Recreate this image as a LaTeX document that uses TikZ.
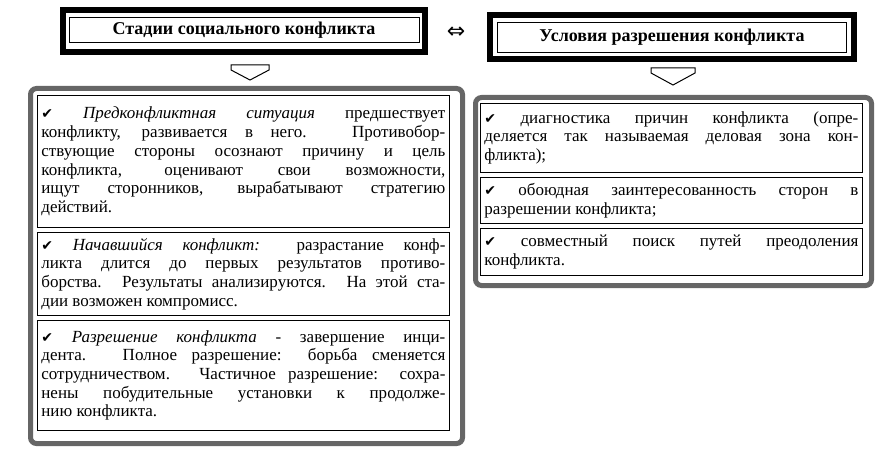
\documentclass[tikz,border=0pt]{standalone}
\usepackage{fontspec}
\setmainfont{Liberation Serif}
\newfontfamily\djv{DejaVu Sans}
\newcommand{\ck}{{\djv\fontsize{14}{14}\selectfont\char"2714}\ }
\hfuzz=20pt
\begin{document}
\begin{tikzpicture}[x=1pt,y=-1pt,
  hdrout/.style={draw=black,line width=6pt,fill=white},
  hdrin/.style={draw=black,line width=0.8pt,font=\fontsize{18}{20}\selectfont\bfseries,align=center},
  panel/.style={draw=black!60,line width=5pt,rounded corners=6pt,fill=white},
  item/.style={draw=black,line width=0.8pt,fill=white,anchor=north west,inner sep=4pt,align=justify,
    font=\fontsize{17}{18.7}\selectfont},
  harrow/.style={draw=black,line width=1pt,fill=white}]
\useasboundingbox (0,0) rectangle (896,468);
% headers
\node[hdrout,minimum width=362pt,minimum height=42pt] (hL) at (244,31) {};
\node[hdrin,minimum width=350pt,minimum height=25pt] (tL) at (244,30) {Стадии социального конфликта};
\node[hdrout,minimum width=364pt,minimum height=44pt] (hR) at (672,37) {};
\node[hdrin,minimum width=349pt,minimum height=30pt] (tR) at (672,37) {Условия разрешения конфликта};
\node[font=\djv\fontsize{22}{22}\selectfont] (dbl) at (456,33) {⇔};
% down arrows
\draw[harrow] (231,65) -- (269,65) -- (269,70) -- (250,80) -- (231,70) -- cycle;
\draw[harrow] (651,68) -- (695,68) -- (695,73) -- (673,85) -- (651,73) -- cycle;
% panels
\node[panel,anchor=north west,minimum width=432pt,minimum height=355pt] (pL) at (28,86) {};
\node[panel,anchor=north west,minimum width=396pt,minimum height=188pt] (pR) at (473,95) {};
% left items
\node[item,text width=404pt,minimum height=132pt] (l1) at (37,95) {\ck\textit{Предконфликтная ситуация} предшествует\linebreak конфликту, развивается в него. Противобор-\linebreak ствующие стороны осознают причину и цель\linebreak конфликта, оценивают свои возможности,\linebreak ищут сторонников, вырабатывают стратегию\linebreak действий.};
\node[item,text width=404pt,minimum height=83pt] (l2) at (37,232) {\ck\textit{Начавшийся конфликт:} разрастание конф-\linebreak ликта длится до первых результатов противо-\linebreak борства. Результаты анализируются. На этой ста-\linebreak дии возможен компромисс.};
\node[item,text width=404pt,minimum height=110pt] (l3) at (37,320) {\ck\textit{Разрешение конфликта} - завершение инци-\linebreak дента. Полное разрешение: борьба сменяется\linebreak сотрудничеством. Частичное разрешение: сохра-\linebreak нены побудительные установки к продолже-\linebreak нию конфликта.};
% right items
\node[item,text width=374pt,minimum height=69pt] (r1) at (480,103) {\ck диагностика причин конфликта (опре-\linebreak деляется так называемая деловая зона кон-\linebreak фликта);};
\node[item,text width=374pt,minimum height=46pt] (r2) at (480,177) {\ck обоюдная заинтересованность сторон в\linebreak разрешении конфликта;};
\node[item,text width=374pt,minimum height=47pt] (r3) at (480,228) {\ck совместный поиск путей преодоления\linebreak конфликта.};
\end{tikzpicture}
\end{document}
